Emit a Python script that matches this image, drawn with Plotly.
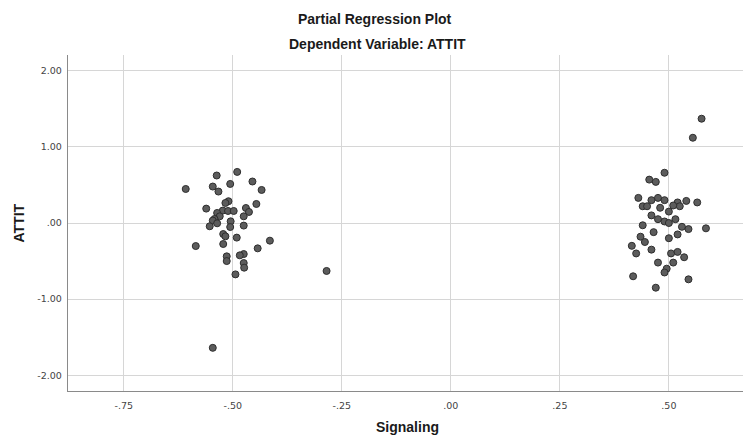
import plotly.graph_objects as go

# Left cluster (Signaling residual, ATTIT residual)
left_x = [-0.490, -0.537, -0.506, -0.546, -0.455, -0.608, -0.533, -0.434, -0.510, -0.517,
          -0.446, -0.561, -0.470, -0.523, -0.511, -0.498, -0.463, -0.536, -0.530, -0.475,
          -0.542, -0.546, -0.505, -0.536, -0.506, -0.475, -0.553, -0.522, -0.517, -0.491,
          -0.415, -0.522, -0.585, -0.443, -0.475, -0.484, -0.514, -0.514, -0.475, -0.474,
          -0.494, -0.546, -0.285]
left_y = [0.671, 0.624, 0.513, 0.479, 0.545, 0.447, 0.413, 0.434, 0.286, 0.263,
          0.250, 0.189, 0.197, 0.163, 0.158, 0.158, 0.145, 0.132, 0.088, 0.088,
          0.053, 0.032, 0.022, -0.004, -0.053, -0.034, -0.043, -0.145, -0.175, -0.192,
          -0.232, -0.276, -0.303, -0.333, -0.408, -0.425, -0.438, -0.500, -0.526, -0.587,
          -0.675, -1.640, -0.630]

# Right cluster
right_x = [0.575, 0.555, 0.490, 0.455, 0.470, 0.430, 0.440, 0.460, 0.475, 0.490,
           0.520, 0.525, 0.540, 0.565, 0.450, 0.480, 0.500, 0.510, 0.460, 0.475,
           0.490, 0.500, 0.515, 0.530, 0.545, 0.585, 0.440, 0.465, 0.500, 0.520,
           0.435, 0.445, 0.415, 0.425, 0.460, 0.505, 0.520, 0.535, 0.475, 0.495,
           0.510, 0.545, 0.418, 0.470, 0.490]
right_y = [1.37, 1.12, 0.66, 0.57, 0.54, 0.33, 0.22, 0.30, 0.33, 0.30,
           0.27, 0.22, 0.29, 0.27, 0.22, 0.20, 0.15, 0.23, 0.10, 0.05,
           0.02, 0.00, 0.05, -0.05, -0.08, -0.07, -0.03, -0.12, -0.20, -0.15,
           -0.18, -0.25, -0.30, -0.40, -0.35, -0.40, -0.38, -0.45, -0.52, -0.60,
           -0.52, -0.74, -0.70, -0.85, -0.65]

x_vals = left_x + right_x
y_vals = left_y + right_y

x_ticks = [-0.75, -0.50, -0.25, 0.00, 0.25, 0.50]
x_tick_text = ["-.75", "-.50", "-.25", ".00", ".25", ".50"]
y_ticks = [-2.0, -1.0, 0.0, 1.0, 2.0]
y_tick_text = ["-2.00", "-1.00", ".00", "1.00", "2.00"]

W, H = 743, 438
ML, MR, MT, MB = 68, 0, 55, 47

fig = go.Figure()
fig.add_trace(go.Scatter(
    x=x_vals, y=y_vals, mode="markers",
    marker=dict(size=7, color="#5c5c5c", line=dict(color="#2e2e2e", width=1)),
    showlegend=False, hoverinfo="skip"))

fig.update_layout(
    width=W, height=H,
    margin=dict(l=ML, r=MR, t=MT, b=MB, autoexpand=False),
    paper_bgcolor="white", plot_bgcolor="white",
    font=dict(family="Liberation Sans, Arial, sans-serif", color="#333"),
)

plot_h = H - MT - MB
plot_w = W - ML - MR
def paper_y(py):
    return (H - MB - py) / plot_h
def paper_x(px):
    return (px - ML) / plot_w

title_font = dict(size=14, color="#1a1a1a", family="Liberation Sans, Arial, sans-serif")
fig.add_annotation(text="<b>Partial Regression Plot</b>", x=paper_x(375), y=paper_y(18.5),
                   xref="paper", yref="paper", showarrow=False, yanchor="middle",
                   xanchor="center", font=title_font)
fig.add_annotation(text="<b>Dependent Variable: ATTIT</b>", x=paper_x(377), y=paper_y(43.5),
                   xref="paper", yref="paper", showarrow=False, yanchor="middle",
                   xanchor="center", font=title_font)
fig.add_annotation(text="<b>Signaling</b>", x=paper_x(407), y=paper_y(427),
                   xref="paper", yref="paper", showarrow=False, yanchor="middle",
                   xanchor="center", font=title_font)
fig.add_annotation(text="<b>ATTIT</b>", x=paper_x(18.5), y=paper_y(223),
                   xref="paper", yref="paper", showarrow=False, yanchor="middle",
                   xanchor="center", textangle=-90, font=title_font)

tick_font = dict(size=9.5, color="#444", family="DejaVu Sans, sans-serif")
fig.update_xaxes(
    range=[-0.878, 0.670], tickvals=x_ticks, ticktext=x_tick_text,
    showgrid=True, gridcolor="#d6d6d6", gridwidth=1.2, zeroline=False,
    showline=True, linecolor="#8a8a8a", linewidth=1.4, automargin=False,
    ticks="", ticklabelstandoff=5, tickfont=tick_font,
)
fig.update_yaxes(
    range=[-2.207, 2.207], tickvals=y_ticks, ticktext=y_tick_text,
    showgrid=True, gridcolor="#d6d6d6", gridwidth=1.2, zeroline=False,
    showline=True, linecolor="#8a8a8a", linewidth=1.4, automargin=False,
    ticks="", ticklabelstandoff=3, tickfont=tick_font,
)

fig.write_html(
    "out.html",
    config={"displayModeBar": False},
    post_script="document.body.style.margin='0px';document.body.style.overflow='hidden';",
)
